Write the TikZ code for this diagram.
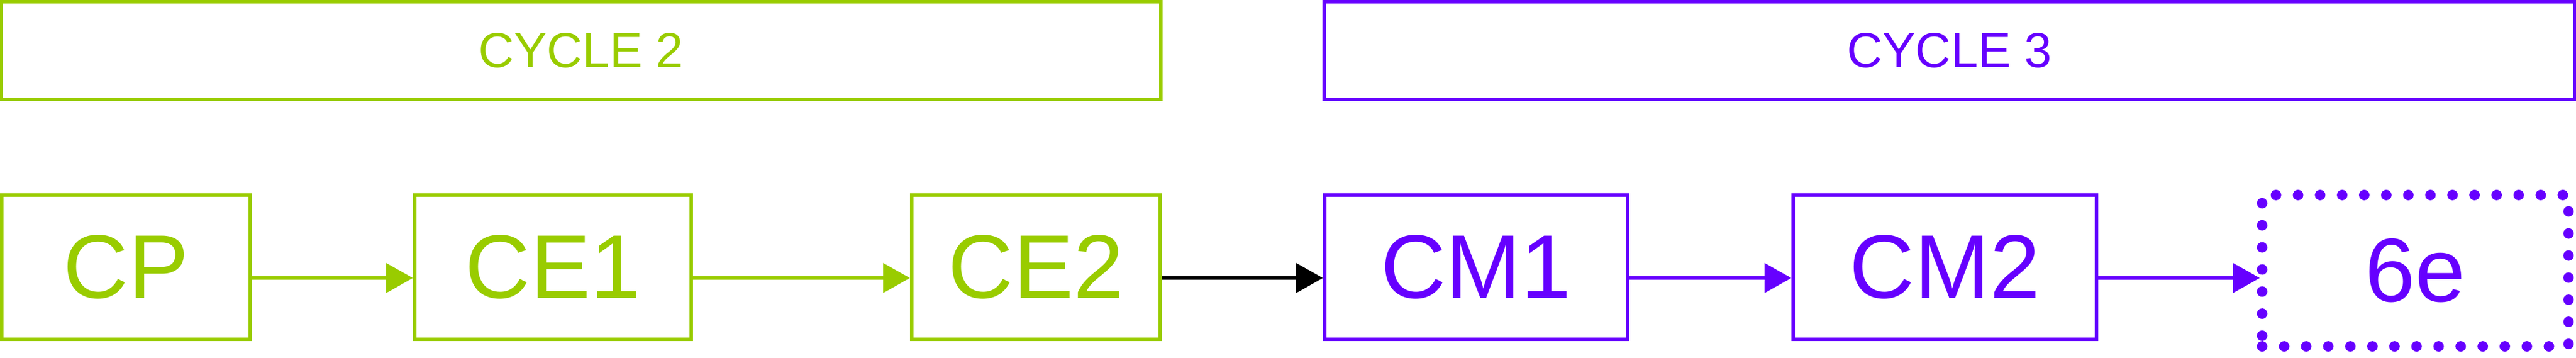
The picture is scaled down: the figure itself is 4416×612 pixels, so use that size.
\documentclass[tikz,border=0pt]{standalone}
\usepackage{fontspec}
\setmainfont{Liberation Sans}
\usetikzlibrary{arrows.meta}
\definecolor{cyclegreen}{HTML}{99CC00}
\definecolor{cyclepurple}{HTML}{6600FF}

\begin{document}
\begin{tikzpicture}[
    x=0.01cm, y=-0.01cm,
    stage/.style={draw, line width=0.06cm, minimum height=2.47cm, inner sep=0pt, font=\fontsize{44}{44}\selectfont},
    greenbox/.style={stage, cyclegreen},
    purplebox/.style={stage, cyclepurple},
    dotbox/.style={line width=0.18cm, dash pattern=on 0pt off 0.378cm, line cap=round, outer sep=0.04cm},
    cyclebox/.style={draw, line width=0.06cm, minimum height=1.67cm, inner sep=0pt, font=\fontsize{24}{24}\selectfont},
    flow/.style={-{Triangle[length=0.46cm, width=0.5cm]}, line width=0.06cm}
]
\useasboundingbox (0,0) rectangle (4416,612);

% Cycle headers
\node[cyclebox, cyclegreen, minimum width=19.86cm] (cycle2) at (996, 86.5) {CYCLE 2};
\node[cyclebox, cyclepurple, minimum width=21.42cm] (cycle3) at (3342, 86.5) {CYCLE 3};

% Stages
\node[greenbox, minimum width=4.26cm] (cp) at (216, 457.5) {CP};
\node[greenbox, minimum width=4.74cm] (ce1) at (948, 457.5) {CE1};
\node[greenbox, minimum width=4.26cm] (ce2) at (1776, 457.5) {CE2};
\node[purplebox, minimum width=5.19cm] (cm1) at (2530.5, 457.5) {CM1};
\node[purplebox, minimum width=5.20cm] (cm2) at (3334, 457.5) {CM2};
\node[purplebox, dotbox, minimum width=5.25cm, minimum height=2.59cm] (sixe) at (4140.5, 463.5) {6e};

% Flow arrows
\draw[flow, cyclegreen] ([yshift=-0.185cm]cp.east) -- ([yshift=-0.185cm]ce1.west);
\draw[flow, cyclegreen] ([yshift=-0.185cm]ce1.east) -- ([yshift=-0.185cm]ce2.west);
\draw[flow, black] ([yshift=-0.185cm]ce2.east) -- ([yshift=-0.185cm]cm1.west);
\draw[flow, cyclepurple] ([yshift=-0.185cm]cm1.east) -- ([yshift=-0.185cm]cm2.west);
\draw[flow, cyclepurple] ([yshift=-0.185cm]cm2.east) -- ([yshift=-0.125cm]sixe.west);

\end{tikzpicture}
\end{document}
